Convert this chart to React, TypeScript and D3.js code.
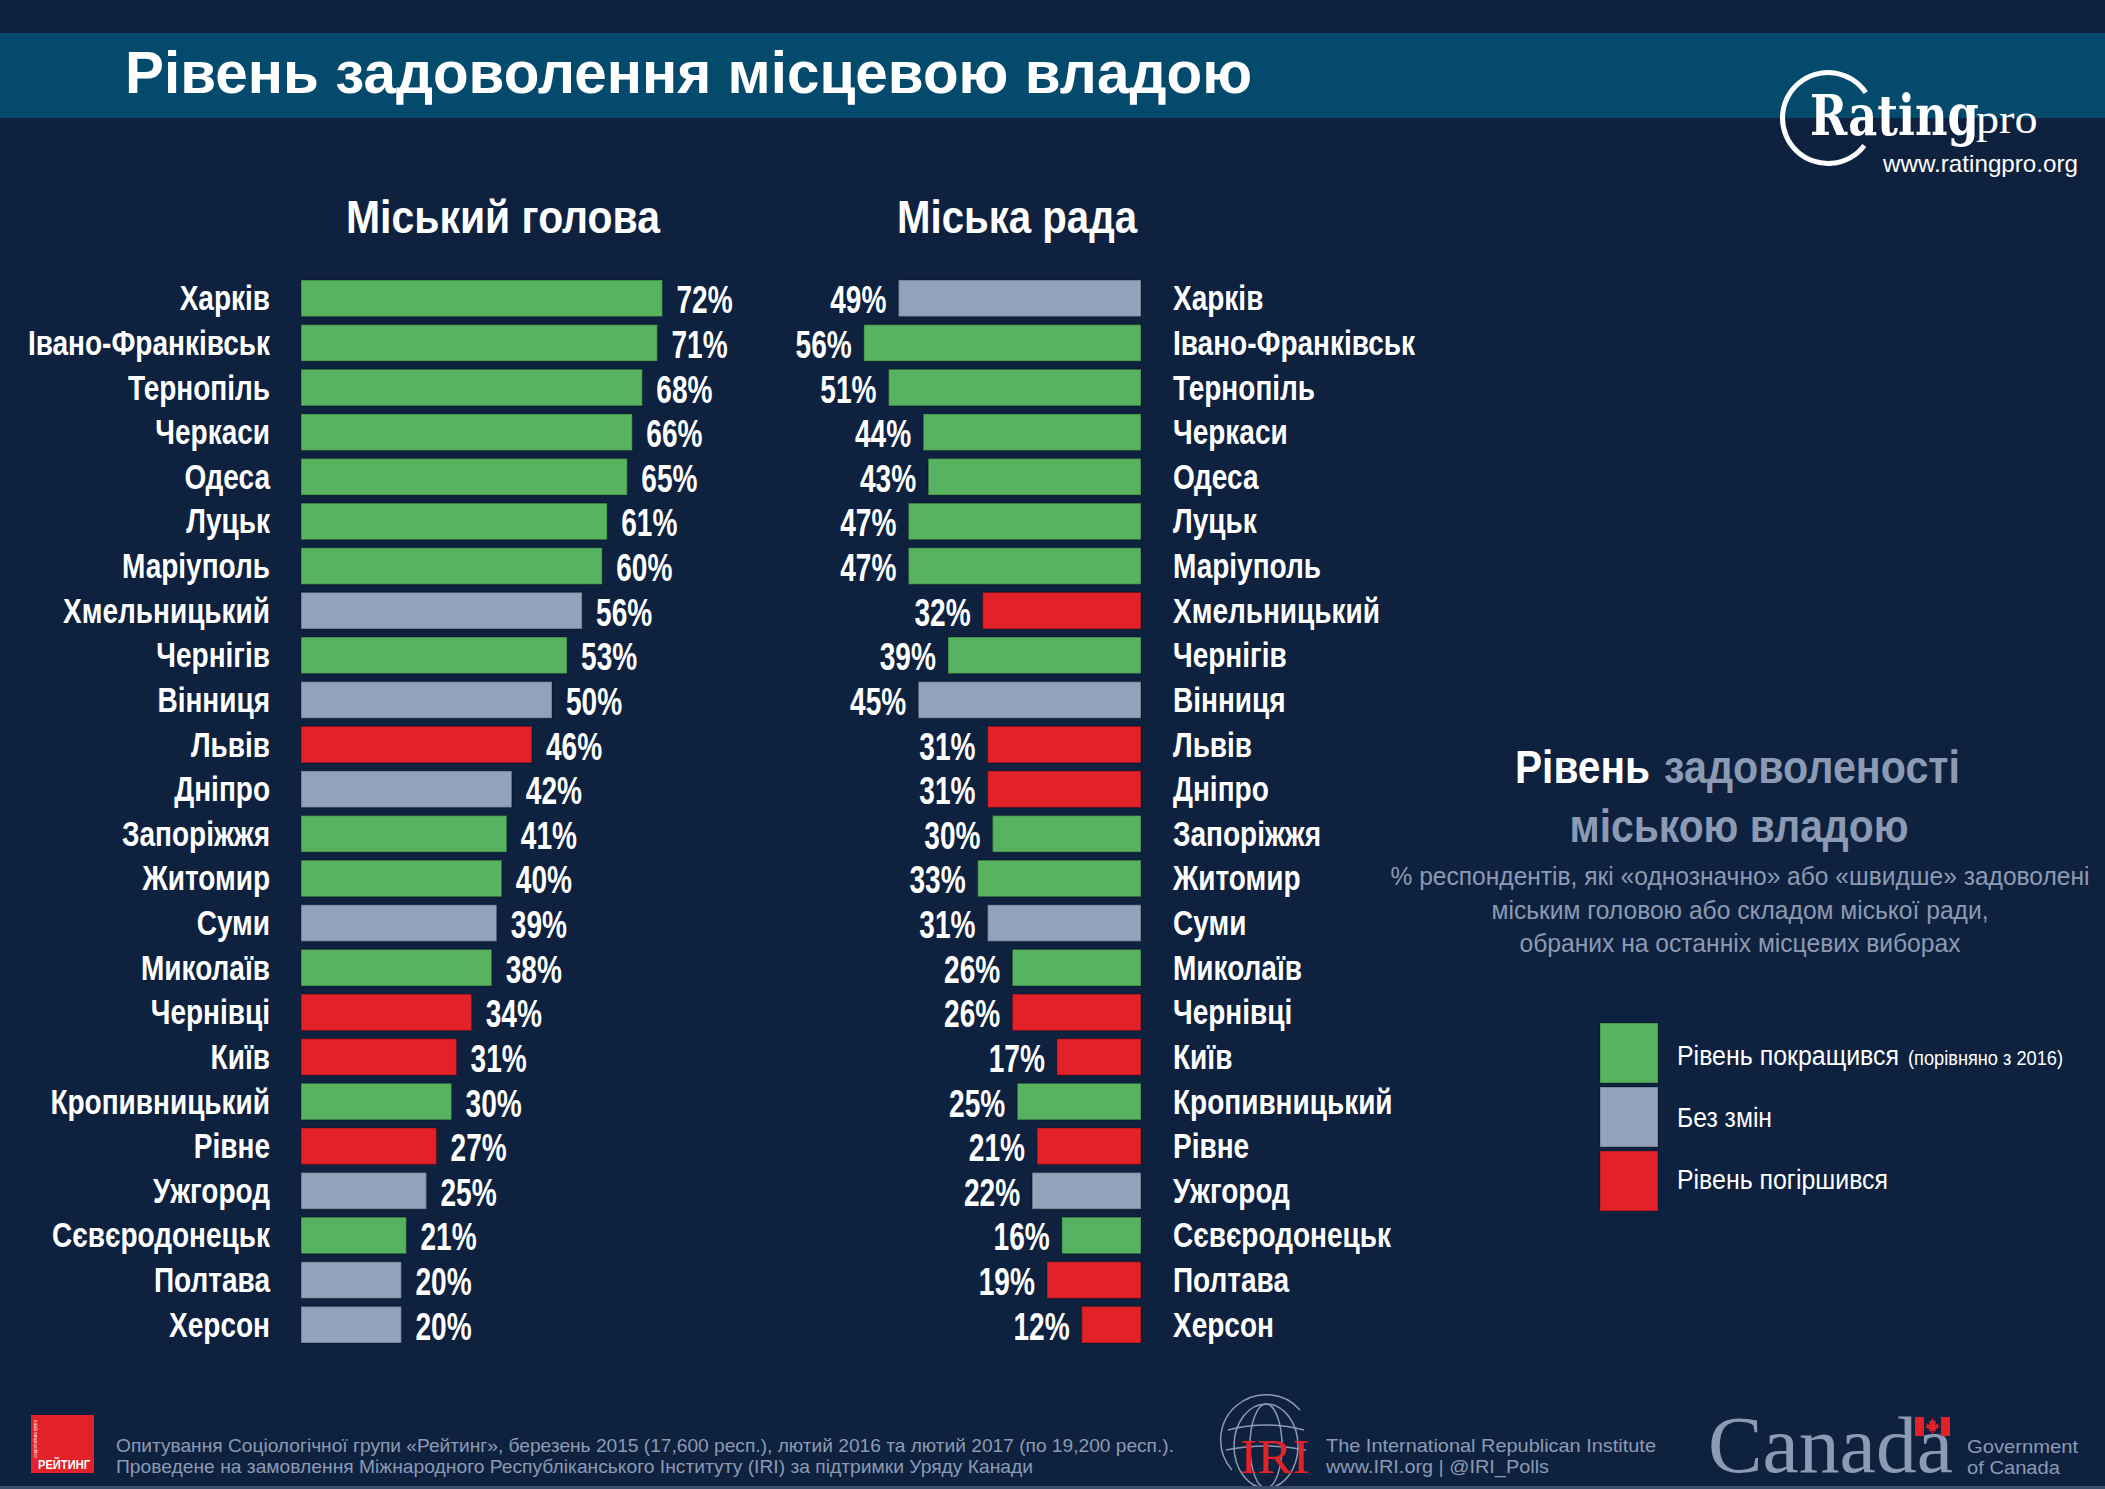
import React from "react";
import * as d3 from "d3";

const cities = [
  "Харків", "Івано-Франківськ", "Тернопіль", "Черкаси", "Одеса", "Луцьк", "Маріуполь",
  "Хмельницький", "Чернігів", "Вінниця", "Львів", "Дніпро", "Запоріжжя", "Житомир",
  "Суми", "Миколаїв", "Чернівці", "Київ", "Кропивницький", "Рівне", "Ужгород",
  "Сєвєродонецьк", "Полтава", "Херсон",
];

// Міський голова
const mayorValues = [72, 71, 68, 66, 65, 61, 60, 56, 53, 50, 46, 42, 41, 40, 39, 38, 34, 31, 30, 27, 25, 21, 20, 20];
const mayorStatus = ["up", "up", "up", "up", "up", "up", "up", "same", "up", "same", "down", "same", "up", "up", "same", "up", "down", "down", "up", "down", "same", "up", "same", "same"];

// Міська рада
const councilValues = [49, 56, 51, 44, 43, 47, 47, 32, 39, 45, 31, 31, 30, 33, 31, 26, 26, 17, 25, 21, 22, 16, 19, 12];
const councilStatus = ["same", "up", "up", "up", "up", "up", "up", "down", "up", "same", "down", "down", "up", "up", "same", "up", "down", "down", "up", "down", "same", "up", "down", "down"];

const legendKeys = ["up", "same", "down"];
const legendLabels = ["Рівень покращився", "Без змін", "Рівень погіршився"];
const legendNote = "(порівняно з 2016)";

const W = 2105;
const H = 1489;
const BG = "#0e2240";
const BANNER = "#044a6d";
const MUTED = "#8c9ab3";
const SANS = "'Liberation Sans', Arial, sans-serif";
const SERIF = "'Liberation Serif', 'Times New Roman', serif";

const color = d3.scaleOrdinal<string, string>().domain(legendKeys).range(["#58b360", "#91a2ba", "#e22128"]);

function NText(props: {
  x: number; y: number; sx: number; size: number; bold?: boolean; fill?: string;
  anchor?: "start" | "end" | "middle"; family?: string; children: React.ReactNode;
}) {
  const { x, y, sx, size, bold, fill, anchor, family, children } = props;
  return (
    <text
      transform={`translate(${x},${y}) scale(${sx},1)`}
      fill={fill || "#fff"}
      fontFamily={family || SANS}
      fontWeight={bold ? "bold" : "normal"}
      fontSize={size}
      textAnchor={anchor || "start"}
    >
      {children}
    </text>
  );
}

export default function App() {
  const y = d3.scaleBand<string>().domain(cities).range([280, 1343]).paddingInner(0.18).paddingOuter(0);
  const xL = d3.scaleLinear().domain([0, 100]).range([301, 803]);
  const xR = d3.scaleLinear().domain([0, 100]).range([1141, 1141 - 495]);
  const bw = y.bandwidth();

  const ringArc = d3.arc()({
    innerRadius: 43,
    outerRadius: 48,
    startAngle: (127 * Math.PI) / 180,
    endAngle: (416 * Math.PI) / 180,
  } as any) as string;

  const leaf = "M0,-9 L2,-5 L4,-6 L3,-1 L7,-3 L6,0 L8,1 L3,4 L4,6 L0.6,5.5 L0.6,9 L-0.6,9 L-0.6,5.5 L-4,6 L-3,4 L-8,1 L-6,0 L-7,-3 L-3,-1 L-4,-6 L-2,-5 Z";

  const CITY_SIZE = 35;
  const CITY_SX = 0.8;
  const PCT_SIZE = 39;
  const PCT_SX = 0.72;

  return (
    <div>
      <style>{`body{margin:0;background:${BG};}`}</style>
      <svg width={W} height={H} viewBox={`0 0 ${W} ${H}`} style={{ display: "block" }}>
        <rect x={0} y={0} width={W} height={H} fill={BG} />
        <rect x={0} y={33} width={W} height={85} fill={BANNER} />
        <text x={125} y={93} fill="#fff" fontFamily={SANS} fontWeight="bold" fontSize={59} textLength={1127} lengthAdjust="spacingAndGlyphs">
          Рівень задоволення місцевою владою
        </text>

        {/* Rating pro logo */}
        <g>
          <path d={ringArc} transform="translate(1828,118)" fill="#fff" />
          <NText x={1810} y={135} sx={0.8} size={56} bold family="'DejaVu Serif', serif">Rating</NText>
          <NText x={1976} y={133} sx={1.1} size={42} family={SERIF}>pro</NText>
          <text x={1883} y={172} fill="#fff" fontFamily={SANS} fontSize={24} textLength={195} lengthAdjust="spacingAndGlyphs">
            www.ratingpro.org
          </text>
        </g>

        {/* Section titles */}
        <text x={503} y={233} fill="#fff" fontFamily={SANS} fontWeight="bold" fontSize={46} textAnchor="middle" textLength={314} lengthAdjust="spacingAndGlyphs">
          Міський голова
        </text>
        <text x={1017} y={233} fill="#fff" fontFamily={SANS} fontWeight="bold" fontSize={46} textAnchor="middle" textLength={240} lengthAdjust="spacingAndGlyphs">
          Міська рада
        </text>

        {/* Left chart: mayor */}
        {cities.map((c, i) => {
          const yc = (y(c) as number) + bw / 2;
          const v = mayorValues[i];
          return (
            <g key={"m" + c}>
              <NText x={270} y={yc + 12} sx={CITY_SX} size={CITY_SIZE} bold anchor="end">{c}</NText>
              <rect x={xL(0)} y={y(c)} width={xL(v) - xL(0)} height={bw} fill={color(mayorStatus[i])} stroke="rgba(0,0,0,0.25)" strokeWidth={1.5} />
              <NText x={xL(v) + 14} y={yc + 15} sx={PCT_SX} size={PCT_SIZE} bold>{v}%</NText>
            </g>
          );
        })}

        {/* Right chart: council */}
        {cities.map((c, i) => {
          const yc = (y(c) as number) + bw / 2;
          const v = councilValues[i];
          return (
            <g key={"c" + c}>
              <rect x={xR(v)} y={y(c)} width={xR(0) - xR(v)} height={bw} fill={color(councilStatus[i])} stroke="rgba(0,0,0,0.25)" strokeWidth={1.5} />
              <NText x={xR(v) - 12} y={yc + 15} sx={PCT_SX} size={PCT_SIZE} bold anchor="end">{v}%</NText>
              <NText x={1173} y={yc + 12} sx={CITY_SX} size={CITY_SIZE} bold>{c}</NText>
            </g>
          );
        })}

        {/* Info block */}
        <text x={1515} y={783} fill="#fff" fontFamily={SANS} fontWeight="bold" fontSize={46} textLength={135} lengthAdjust="spacingAndGlyphs">
          Рівень
        </text>
        <text x={1664} y={783} fill={MUTED} fontFamily={SANS} fontWeight="bold" fontSize={46} textLength={296} lengthAdjust="spacingAndGlyphs">
          задоволеності
        </text>
        <text x={1739} y={842} fill={MUTED} fontFamily={SANS} fontWeight="bold" fontSize={46} textAnchor="middle" textLength={339} lengthAdjust="spacingAndGlyphs">
          міською владою
        </text>
        <text x={1740} y={885} fill={MUTED} fontFamily={SANS} fontSize={25} textAnchor="middle" textLength={699} lengthAdjust="spacingAndGlyphs">
          % респондентів, які «однозначно» або «швидше» задоволені
        </text>
        <text x={1740} y={919} fill={MUTED} fontFamily={SANS} fontSize={25} textAnchor="middle" textLength={497} lengthAdjust="spacingAndGlyphs">
          міським головою або складом міської ради,
        </text>
        <text x={1740} y={952} fill={MUTED} fontFamily={SANS} fontSize={25} textAnchor="middle" textLength={441} lengthAdjust="spacingAndGlyphs">
          обраних на останніх місцевих виборах
        </text>

        {/* Legend */}
        {legendKeys.map((k, i) => (
          <g key={k}>
            <rect x={1600} y={1023 + i * 64} width={58} height={60} fill={color(k)} stroke="rgba(0,0,0,0.2)" strokeWidth={1.5} />
            <text x={1677} y={1065 + i * 62} fill="#fff" fontFamily={SANS} fontSize={27} textLength={[222, 95, 211][i]} lengthAdjust="spacingAndGlyphs">
              {legendLabels[i]}
            </text>
          </g>
        ))}
        <text x={1908} y={1065} fill="#fff" fontFamily={SANS} fontSize={20} textLength={155} lengthAdjust="spacingAndGlyphs">
          {legendNote}
        </text>

        {/* Footer */}
        <rect x={31} y={1415} width={63} height={58} fill="#e22128" />
        <text x={64} y={1469} fill="#fff" fontFamily={SANS} fontWeight="bold" fontSize={12} textAnchor="middle" textLength={52} lengthAdjust="spacingAndGlyphs">
          РЕЙТИНГ
        </text>
        <text transform="translate(37,1458) rotate(-90)" fill="#fff" fontFamily={SANS} fontSize={5} textLength={38} lengthAdjust="spacingAndGlyphs">
          соціологічна група
        </text>
        <text x={116} y={1452} fill={MUTED} fontFamily={SANS} fontSize={19} textLength={1058} lengthAdjust="spacingAndGlyphs">
          Опитування Соціологічної групи «Рейтинг», березень 2015 (17,600 респ.), лютий 2016 та лютий 2017 (по 19,200 респ.).
        </text>
        <text x={116} y={1473} fill={MUTED} fontFamily={SANS} fontSize={19} textLength={917} lengthAdjust="spacingAndGlyphs">
          Проведене на замовлення Міжнародного Республіканського Інституту (IRI) за підтримки Уряду Канади
        </text>

        {/* IRI logo */}
        <g fill="none" stroke={MUTED} strokeWidth={1.5}>
          <path d="M1232,1470 A44,44 0 0 1 1300,1410" />
          <ellipse cx={1266} cy={1446} rx={16} ry={42} />
          <ellipse cx={1266} cy={1446} rx={32} ry={42} />
          <path d="M1228,1430 Q1266,1420 1304,1430" />
          <path d="M1226,1450 Q1266,1442 1306,1450" />
        </g>
        <text x={1240} y={1473} fill="#e22128" fontFamily={SERIF} fontSize={48} textLength={70} lengthAdjust="spacingAndGlyphs">
          IRI
        </text>
        <text x={1326} y={1452} fill={MUTED} fontFamily={SANS} fontSize={19} textLength={330} lengthAdjust="spacingAndGlyphs">
          The International Republican Institute
        </text>
        <text x={1326} y={1473} fill={MUTED} fontFamily={SANS} fontSize={19} textLength={223} lengthAdjust="spacingAndGlyphs">
          www.IRI.org | @IRI_Polls
        </text>

        {/* Canada wordmark */}
        <text x={1708} y={1472} fill={MUTED} fontFamily={SERIF} fontSize={80} textLength={245} lengthAdjust="spacingAndGlyphs">
          Canada
        </text>
        <rect x={1915} y={1417} width={9} height={19} fill="#e22128" />
        <rect x={1941} y={1417} width={9} height={19} fill="#e22128" />
        <path d={leaf} transform="translate(1932.5,1426) scale(0.9)" fill="#e22128" />
        <text x={1967} y={1453} fill={MUTED} fontFamily={SANS} fontSize={19} textLength={111} lengthAdjust="spacingAndGlyphs">
          Government
        </text>
        <text x={1967} y={1474} fill={MUTED} fontFamily={SANS} fontSize={19} textLength={93} lengthAdjust="spacingAndGlyphs">
          of Canada
        </text>
        <rect x={0} y={1486} width={W} height={3} fill="#3a4d6b" />
      </svg>
    </div>
  );
}
